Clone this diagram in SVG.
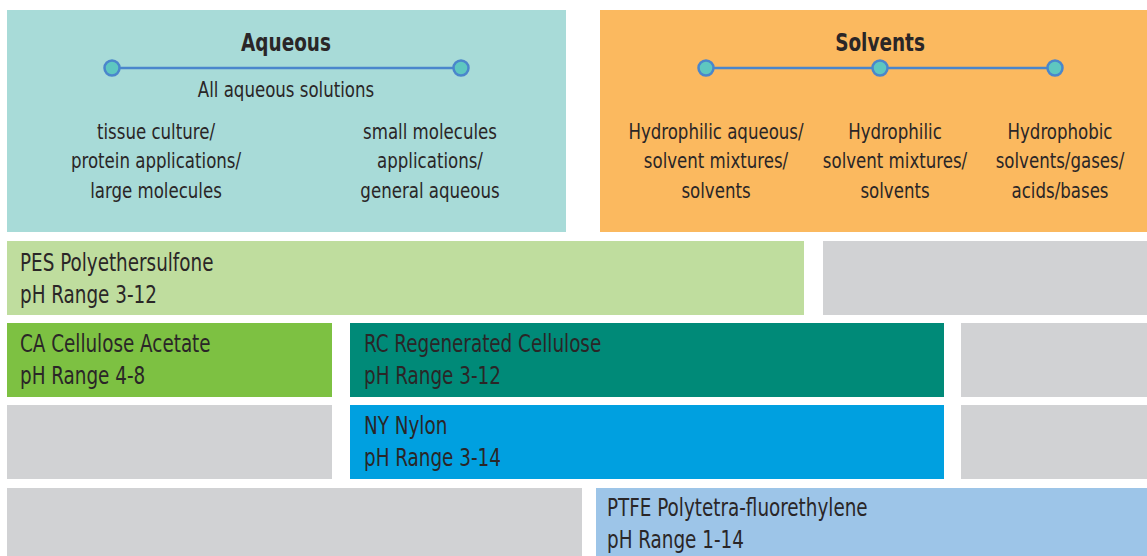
<svg xmlns="http://www.w3.org/2000/svg" width="1147" height="556" viewBox="0 0 1147 556">
<style>
text{font-family:"Liberation Sans Narrow","DejaVu Sans Condensed","Roboto",sans-serif;fill:#2a2627;font-size:21px}
.h{font-weight:bold;font-size:25px;text-anchor:middle}
.c{text-anchor:middle}
.m{font-size:24px}
.dot{fill:#5ec7c0;stroke:#4a86cc;stroke-width:2.5}
.ln{stroke:#4a86cc;stroke-width:2.5}
.g{fill:#d1d2d4}
</style>
<rect width="1147" height="556" fill="#ffffff"/>
<g id="aqueous">
<rect x="7" y="10" width="559" height="222" fill="#a8dbd8"/>
<text class="h" transform="translate(286,51) scale(0.82,1)">Aqueous</text>
<text class="c" transform="translate(286,97) scale(0.88,1)">All aqueous solutions</text>
<text class="c" transform="translate(156,139) scale(0.88,1)">tissue culture/</text>
<text class="c" transform="translate(156,168) scale(0.88,1)">protein applications/</text>
<text class="c" transform="translate(156,198) scale(0.88,1)">large molecules</text>
<text class="c" transform="translate(430,139) scale(0.88,1)">small molecules</text>
<text class="c" transform="translate(430,168) scale(0.88,1)">applications/</text>
<text class="c" transform="translate(430,198) scale(0.88,1)">general aqueous</text>
</g>
<g id="solvents">
<rect x="600" y="10" width="547" height="222" fill="#fbb95f"/>
<text class="h" transform="translate(880,51) scale(0.82,1)">Solvents</text>
<text class="c" transform="translate(716,139) scale(0.88,1)">Hydrophilic aqueous/</text>
<text class="c" transform="translate(716,168) scale(0.88,1)">solvent mixtures/</text>
<text class="c" transform="translate(716,198) scale(0.88,1)">solvents</text>
<text class="c" transform="translate(895,139) scale(0.88,1)">Hydrophilic</text>
<text class="c" transform="translate(895,168) scale(0.88,1)">solvent mixtures/</text>
<text class="c" transform="translate(895,198) scale(0.88,1)">solvents</text>
<text class="c" transform="translate(1060,139) scale(0.88,1)">Hydrophobic</text>
<text class="c" transform="translate(1060,168) scale(0.88,1)">solvents/gases/</text>
<text class="c" transform="translate(1060,198) scale(0.88,1)">acids/bases</text>
</g>
<g id="connectors">
<line class="ln" x1="112" y1="68" x2="461" y2="68"/>
<line class="ln" x1="706" y1="68" x2="1055" y2="68"/>
</g>
<g id="markers">
<circle class="dot" cx="112" cy="68" r="7.5"/>
<circle class="dot" cx="461" cy="68" r="7.5"/>
<circle class="dot" cx="706" cy="68" r="7.5"/>
<circle class="dot" cx="880" cy="68" r="7.5"/>
<circle class="dot" cx="1055" cy="68" r="7.5"/>
</g>
<g id="pes">
<rect x="7" y="241" width="797" height="74" fill="#bfdd9e"/>
<text class="m" transform="translate(20,271) scale(0.85,1)">PES Polyethersulfone</text>
<text class="m" transform="translate(20,303) scale(0.85,1)">pH Range 3-12</text>
</g>
<rect id="gray1" class="g" x="823" y="241" width="324" height="74"/>
<g id="ca">
<rect x="7" y="323" width="325" height="74" fill="#7dc142"/>
<text class="m" transform="translate(20,352) scale(0.85,1)">CA Cellulose Acetate</text>
<text class="m" transform="translate(20,384) scale(0.85,1)">pH Range 4-8</text>
</g>
<g id="rc">
<rect x="350" y="323" width="594" height="74" fill="#008a78"/>
<text class="m" transform="translate(364,352) scale(0.85,1)">RC Regenerated Cellulose</text>
<text class="m" transform="translate(364,384) scale(0.85,1)">pH Range 3-12</text>
</g>
<rect id="gray2" class="g" x="961" y="323" width="186" height="74"/>
<rect id="gray3" class="g" x="7" y="405" width="325" height="74"/>
<g id="ny">
<rect x="350" y="405" width="594" height="74" fill="#00a0e0"/>
<text class="m" transform="translate(364,434) scale(0.85,1)">NY Nylon</text>
<text class="m" transform="translate(364,466) scale(0.85,1)">pH Range 3-14</text>
</g>
<rect id="gray4" class="g" x="961" y="405" width="186" height="74"/>
<rect id="gray5" class="g" x="7" y="488" width="575" height="68"/>
<g id="ptfe">
<rect x="596" y="488" width="551" height="68" fill="#9dc5e8"/>
<text class="m" transform="translate(607,516) scale(0.85,1)">PTFE Polytetra-fluorethylene</text>
<text class="m" transform="translate(607,548) scale(0.85,1)">pH Range 1-14</text>
</g>
</svg>
